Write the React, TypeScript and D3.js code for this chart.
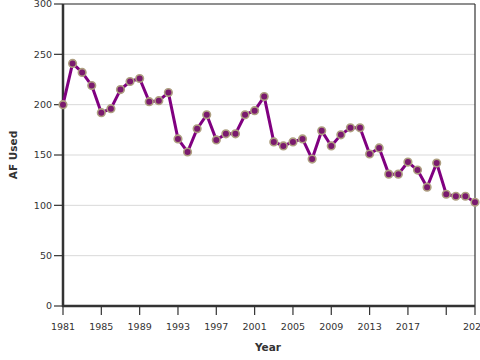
import React from 'react';
import * as d3 from 'd3';

const years = d3.range(1981, 2025);
const afUsed = [
  200, 241, 232, 219, 192, 196, 215, 223, 226, 203,
  204, 212, 166, 153, 176, 190, 165, 171, 171, 190,
  194, 208, 163, 159, 163, 166, 146, 174, 159, 170,
  177, 177, 151, 157, 131, 131, 143, 135, 118, 142,
  111, 109, 109, 103,
];
const xTicks = [1981, 1985, 1989, 1993, 1997, 2001, 2005, 2009, 2013, 2017, 2021, 2024];
const xTickLabels = ['1981', '1985', '1989', '1993', '1997', '2001', '2005', '2009', '2013', '2017', '', '2024'];
const yTicks = [0, 50, 100, 150, 200, 250, 300];

const width = 480;
const height = 360;
const margin = { top: 4, right: 5, bottom: 54, left: 63 };

export default function App() {
  const x = d3.scaleLinear()
    .domain([1981, 2024])
    .range([margin.left, width - margin.right]);
  const y = d3.scaleLinear()
    .domain([0, 300])
    .range([height - margin.bottom, margin.top]);

  const data = years.map((yr, i) => ({ yr, v: afUsed[i] }));
  const line = d3.line<{ yr: number; v: number }>()
    .x(d => x(d.yr))
    .y(d => y(d.v));

  const x0 = margin.left;
  const x1 = width - margin.right;
  const y0 = height - margin.bottom;
  const y1 = margin.top;
  const font = '"DejaVu Sans", sans-serif';

  return (
    <svg
      width={width}
      height={height}
      style={{ position: 'absolute', left: 0, top: 0, background: '#fff' }}
      fontFamily={font}
    >
      {/* gridlines */}
      {yTicks.map(t => (
        <line key={'g' + t} x1={x0} x2={x1} y1={y(t)} y2={y(t)} stroke="#d9d9d9" strokeWidth={1} />
      ))}

      {/* frame top/right */}
      <line x1={x0} x2={x1} y1={y1} y2={y1} stroke="#333" strokeWidth={1.2} />
      <line x1={x1} x2={x1} y1={y1} y2={y0} stroke="#333" strokeWidth={1.2} />

      {/* y axis */}
      {yTicks.map(t => (
        <g key={'y' + t}>
          <line x1={x0 - 9} x2={x0} y1={y(t)} y2={y(t)} stroke="#333" strokeWidth={1.2} />
          <text x={x0 - 11} y={y(t)} dy="0.35em" textAnchor="end" fontSize={9.5} fill="#333">
            {t}
          </text>
        </g>
      ))}
      <line x1={x0} x2={x0} y1={y1} y2={y0 + 1} stroke="#333" strokeWidth={2.5} />

      {/* x axis */}
      {xTicks.map((t, i) => (
        <g key={'x' + t}>
          <line x1={x(t)} x2={x(t)} y1={y0} y2={y0 + 9} stroke="#333" strokeWidth={1.2} />
          <text x={x(t)} y={y0 + 24} textAnchor="middle" fontSize={9.5} fill="#333">
            {xTickLabels[i]}
          </text>
        </g>
      ))}
      <line x1={x0 - 1} x2={x1} y1={y0} y2={y0} stroke="#333" strokeWidth={2.5} />

      {/* axis titles */}
      <text
        x={x0 + (x1 - x0) / 2 - 1}
        y={351}
        textAnchor="middle"
        fontSize={10.5}
        fontWeight="bold"
        fill="#333"
      >
        Year
      </text>
      <text
        transform={`translate(17,${(y0 + y1) / 2}) rotate(-90)`}
        textAnchor="middle"
        fontSize={10.5}
        fontWeight="bold"
        fill="#333"
      >
        AF Used
      </text>

      {/* series */}
      <path d={line(data) || ''} fill="none" stroke="#800080" strokeWidth={3} strokeLinejoin="round" />
      {data.map(d => (
        <circle
          key={d.yr}
          cx={x(d.yr)}
          cy={y(d.v)}
          r={3.8}
          fill="#7a1a6e"
          stroke="#ae9f80"
          strokeWidth={1.6}
        />
      ))}
    </svg>
  );
}
